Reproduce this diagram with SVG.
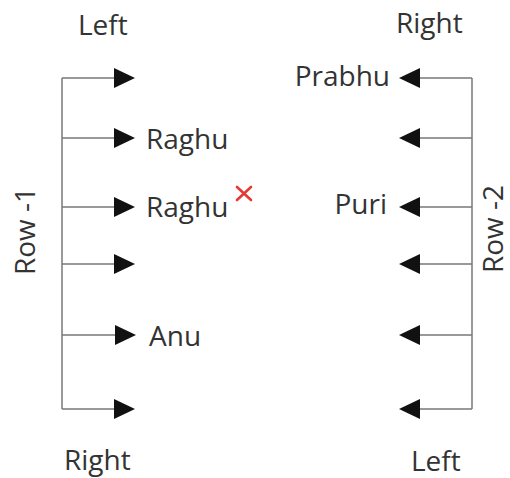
<svg xmlns="http://www.w3.org/2000/svg" width="510" height="478" viewBox="0 0 510 478">
<style>
text{font-family:"Open Sans","Noto Sans","Liberation Sans",sans-serif;font-size:28px;fill:#333}
.trunk{fill:none;stroke:#9a9a9a;stroke-width:2}
.br{stroke:#777;stroke-width:1.5;marker-end:url(#ah)}
.x{stroke:#e53935;stroke-width:2.6;stroke-linecap:round}
</style>
<defs>
<marker id="ah" viewBox="0 0 21 20" refX="0" refY="10" markerWidth="21" markerHeight="20" markerUnits="userSpaceOnUse" orient="auto">
<path d="M0,0 L21,10 L0,20 z" fill="#111"/>
</marker>
</defs>
<g id="connectors">
<path class="trunk" d="M62,78 V409"/>
<line class="br" x1="62" y1="78" x2="114" y2="78"/>
<line class="br" x1="62" y1="138" x2="114" y2="138"/>
<line class="br" x1="62" y1="207" x2="114" y2="207"/>
<line class="br" x1="62" y1="264" x2="114" y2="264"/>
<line class="br" x1="62" y1="335" x2="115" y2="335"/>
<line class="br" x1="62" y1="409" x2="114" y2="409"/>
<path class="trunk" d="M472,78 V409"/>
<line class="br" x1="472" y1="78" x2="420" y2="78"/>
<line class="br" x1="472" y1="138" x2="420" y2="138"/>
<line class="br" x1="472" y1="207" x2="420" y2="207"/>
<line class="br" x1="472" y1="264" x2="420" y2="264"/>
<line class="br" x1="472" y1="335" x2="420" y2="335"/>
<line class="br" x1="472" y1="409" x2="420" y2="409"/>
</g>
<g id="label-left-top"><text x="78" y="35">Left</text></g>
<g id="label-right-bottom"><text x="64" y="470">Right</text></g>
<g id="label-row1"><text transform="translate(35,231) rotate(-90)" text-anchor="middle">Row -1</text></g>
<g id="node-raghu1"><text x="146" y="149">Raghu</text></g>
<g id="node-raghu2"><text x="146" y="217">Raghu</text>
<path class="x" d="M237,187 L251,200 M251,187 L237,200"/></g>
<g id="node-anu"><text x="149" y="346">Anu</text></g>
<g id="label-right-top"><text x="396" y="33">Right</text></g>
<g id="label-left-bottom"><text x="411" y="471">Left</text></g>
<g id="label-row2"><text transform="translate(503,229) rotate(-90)" text-anchor="middle">Row -2</text></g>
<g id="node-prabhu"><text x="390" y="86" text-anchor="end">Prabhu</text></g>
<g id="node-puri"><text x="387" y="214" text-anchor="end">Puri</text></g>
</svg>
